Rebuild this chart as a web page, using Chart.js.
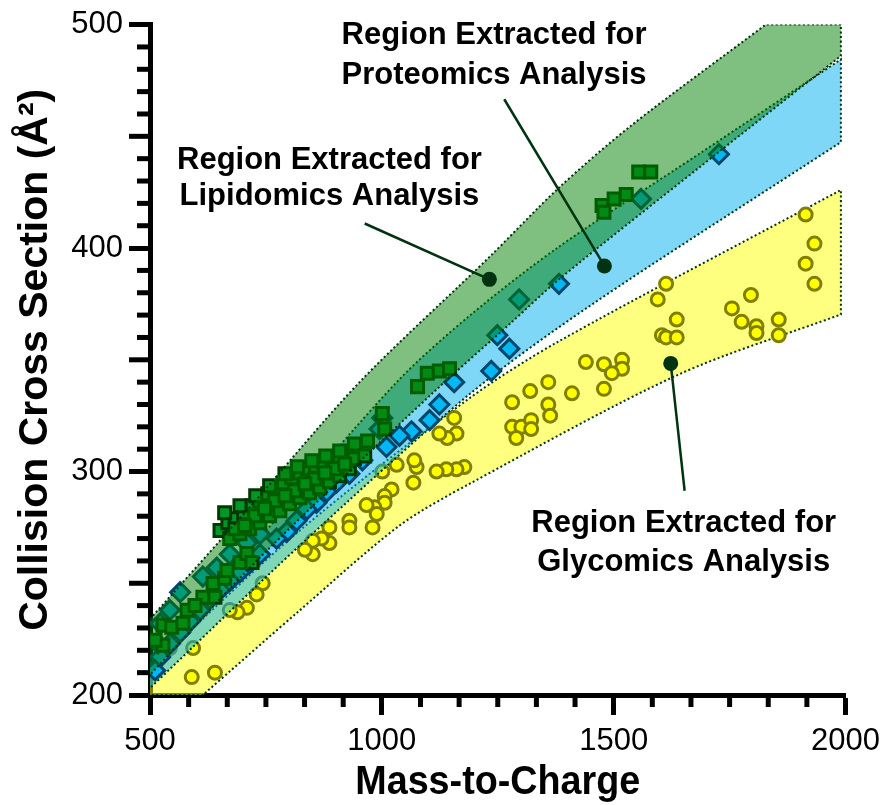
<!DOCTYPE html>
<html><head><meta charset="utf-8">
<script src="https://cdn.jsdelivr.net/npm/chart.js@4.4.1/dist/chart.umd.min.js"></script>
<style>html,body{margin:0;padding:0;background:#fff;}canvas{display:block;}</style>
</head><body>
<canvas id="c" width="888" height="805"></canvas>
<script>
// ---- tick labels / axes ----
const xTickValues = [500, 1000, 1500, 2000];
const yTickValues = [200, 300, 400, 500];
const xTitle = 'Mass-to-Charge';
const yTitle = 'Collision Cross Section (Å²)';

// ---- extraction regions (outline vertices, m/z and CCS; repeated vertex = sharp corner) ----
const lipidRegionMz  = [500, 500, 715, 952, 1232, 1382, 1539, 1828, 1828, 1990, 1990, 1990, 1990, 1684, 1382, 1281, 1109, 737, 500, 500];
const lipidRegionCcs = [234, 234, 284, 340, 396, 427, 455, 500, 500, 500, 500, 486, 486, 436, 386, 367, 335, 261.5, 209, 209];
const protRegionMz   = [500, 500, 737, 1034, 1195, 1382, 1684, 1990, 1990, 1990, 1990, 1447, 1189, 823, 500, 500];
const protRegionCcs  = [214.7, 214.7, 270.4, 340.4, 370.7, 400.6, 442.1, 484.4, 484.4, 447.4, 447.4, 373.9, 334.6, 266.9, 203.1, 203.1];
const glycRegionMz   = [500, 500, 823, 1189, 1382, 1990, 1990, 1990, 1990, 1641, 1189, 1038, 823, 614, 614, 500];
const glycRegionCcs  = [212, 212, 273.6, 332.8, 358.3, 426, 426, 370.3, 370.3, 343.5, 294.5, 275.8, 237.9, 200, 200, 200];

// ---- glycomics (yellow circles) ----
const glycMz  = [1914,1933,1914,1933,1613,1595,1796,1755,1636,1776,1808,1856,1604,1613,1636,1808,1856,1440,1479,1518,1518,1496,1359,1320,1410,1479,1281,1359,1363,1281,1301,1322,1322,1290,1156,1161,1141,1124,1178,1161,1139,1118,1075,1070,1032,1001,1068,1021,1006,1006,984,967,989,980,930,930,887,887,870,851,851,834,743,730,709,689,672,593,590,640,543];
const glycCcs = [415,402,393,384,384,377,379,373,368,367,365,368,361,360,360,362,361,349,348,350,346,344,340,336,335,337,331,330,325,320,320,323,319,315,324,317,315,317,302,301,301,300,302,305,303,300,295,292,289,286,284,285,281,275,278,275,275,268,270,269,263,265,250,245,239,237,238,221,208,210,221];

// ---- proteomics (blue diamonds) ----
const protMz  = [1727,1559,1382,1296,1249,1275,1236,1156,1124,1103,1064,1038,1010,1001,995,958,930,902,881,859,838,816,795,773,737,715,694,672,651,629,608,586,565,543,522,511,672,644,614,565,543,522,517,709,737];
const protCcs = [442,422,384,377,361,355,345,340,330,323,318,316,311,324,319,305,299,295,291,286,283,278,273,270,263,259,255,251,247,243,238,233,228,223,217,211,263,257,253,246,238,232,223,268,272];

// ---- lipidomics (green squares) ----
const lipidMz  = [1475,1479,1501,1527,1554,1580,1077,1098,1124,1146,1001,1006,
  651,668,685,702,720,737,754,771,788,806,823,840,857,874,892,909,926,943,961,
  672,694,715,737,758,780,801,823,844,866,887,909,930,
  683,726,769,812,855,898,941,
  661,694,728,758,791,818,849,879,909,941,969,
  704,747,791,834,877,920,963,
  528,547,528,580,571,614,640,636,661,666,694,709,720,511,597];
const lipidCcs = [419,416,422,424,434,434,338,344,345,346,326,319,
  273.6,277.1,278.9,281.6,284.7,286.9,290.1,292.3,295,297.2,299.4,301.2,302.5,304.3,305.7,307,308.8,310.1,310.6,
  270,272.2,274.4,277.1,280.2,282.5,285.6,288.3,290.5,292.7,295.4,298.1,301.2,
  274.4,280.2,286.9,291.4,296.7,301.2,305.7,
  281.6,284.7,289.2,293.6,299,302.1,304.8,307,309.2,312.3,313.7,
  275.8,283.4,289.2,294.5,299.4,303.4,307,
  231.2,230.3,222.3,237.9,232.1,243.7,243.7,249.9,252.2,255.7,259.3,263.3,259.3,224.5,240.1];

// ---- callouts ----
const calloutLabels = [
  ['Region Extracted for', 'Proteomics Analysis'],
  ['Region Extracted for', 'Lipidomics Analysis'],
  ['Region Extracted for', 'Glycomics Analysis']
];
const calloutTextMz  = [1242, 887, 1651];
const calloutTextCcs = [[495.1, 477.3], [439.4, 422.9], [276.7, 259.3]];
const calloutStartMz  = [1264, 963, 1653];
const calloutStartCcs = [466.6, 411, 291.4];
const calloutDotMz    = [1480, 1232, 1623];
const calloutDotCcs   = [392, 386, 348.4];

const FONT = '"Liberation Sans", Arial, Helvetica, sans-serif';
const pts = (xs, ys) => xs.map((x, i) => ({x, y: ys[i]}));

function region(xs, ys, fillColor, order) {
  return {
    type: 'line', data: pts(xs, ys), order,
    fill: 'shape', backgroundColor: fillColor,
    borderColor: '#00330f', borderWidth: 2, borderDash: [2, 2.5],
    pointRadius: 0, tension: 0.3, spanGaps: true
  };
}
function markers(xs, ys, style, r, bg, bc, order) {
  return {
    type: 'scatter', data: pts(xs, ys), order,
    pointStyle: style, pointRadius: r, pointBackgroundColor: bg,
    pointBorderColor: bc, pointBorderWidth: 3, showLine: false
  };
}
const calloutSets = calloutLabels.map((_, i) => ({
  type: 'line', order: 0,
  data: [{x: calloutStartMz[i], y: calloutStartCcs[i]}, {x: calloutDotMz[i], y: calloutDotCcs[i]}],
  borderColor: '#00330f', borderWidth: 2.5, fill: false, tension: 0,
  pointRadius: [0, 7.5], pointBackgroundColor: '#00330f', pointBorderWidth: 0
}));

const decorations = {
  id: 'decorations',
  afterDraw(chart) {
    const {ctx, scales: {x, y}, chartArea: a} = chart;
    ctx.save();
    ctx.strokeStyle = '#000';
    ctx.lineWidth = 5;
    ctx.lineCap = 'butt';
    for (let k = 1; k < 18; k++) {
      if (k % 6 === 0) continue;
      const px = x.getPixelForValue(500 + k * 1500 / 18);
      ctx.beginPath(); ctx.moveTo(px, a.bottom); ctx.lineTo(px, a.bottom + 12); ctx.stroke();
    }
    for (let v = 210; v < 500; v += 10) {
      if (v % 100 === 0) continue;
      const len = v % 50 === 0 ? 21 : 13;
      const py = y.getPixelForValue(v);
      ctx.beginPath(); ctx.moveTo(a.left, py); ctx.lineTo(a.left - len, py); ctx.stroke();
    }
    ctx.fillStyle = '#000';
    ctx.textAlign = 'center';
    ctx.textBaseline = 'middle';
    ctx.font = 'bold 31px ' + FONT;
    calloutLabels.forEach((lines, i) => {
      lines.forEach((t, j) => {
        ctx.fillText(t, x.getPixelForValue(calloutTextMz[i]), y.getPixelForValue(calloutTextCcs[i][j]));
      });
    });
    ctx.save();
    ctx.font = 'bold 41px ' + FONT;
    ctx.translate((a.left + a.right) / 2, 783);
    ctx.scale(0.92, 1);
    ctx.fillText(xTitle, 0, 0);
    ctx.restore();
    ctx.save();
    ctx.font = 'bold 41px ' + FONT;
    ctx.translate(36, (a.top + a.bottom) / 2);
    ctx.rotate(-Math.PI / 2);
    ctx.fillText(yTitle, 0, 0);
    ctx.restore();
    ctx.restore();
  }
};

new Chart(document.getElementById('c'), {
  type: 'scatter',
  data: {
    datasets: [
      ...calloutSets,
      region(lipidRegionMz, lipidRegionCcs, 'rgba(0,128,0,0.5)', 1),
      markers(lipidMz, lipidCcs, 'rect', 8.5, '#00962a', '#003a00', 2),
      markers(protMz, protCcs, 'rectRot', 9.5, '#00b8f4', '#00466a', 3),
      region(protRegionMz, protRegionCcs, 'rgba(0,176,240,0.5)', 4),
      markers(glycMz, glycCcs, 'circle', 6.5, '#ffff00', '#808000', 5),
      region(glycRegionMz, glycRegionCcs, 'rgba(255,255,0,0.5)', 6)
    ]
  },
  options: {
    responsive: false, animation: false, devicePixelRatio: 1,
    layout: {padding: {left: 0, right: 41, top: 22, bottom: 0}},
    plugins: {legend: {display: false}, tooltip: {enabled: false}},
    scales: {
      x: {
        type: 'linear', position: 'bottom', min: 500, max: 2000,
        afterBuildTicks: s => { s.ticks = xTickValues.map(v => ({value: v})); },
        afterFit: s => { s.height = 110; },
        ticks: {color: '#000', font: {family: FONT, size: 31}, padding: 8, maxRotation: 0, callback: v => String(v)},
        grid: {drawOnChartArea: false, tickLength: 20, tickWidth: 5, tickColor: '#000'},
        border: {color: '#000', width: 5}
      },
      y: {
        type: 'linear', min: 200, max: 500,
        afterBuildTicks: s => { s.ticks = yTickValues.map(v => ({value: v})); },
        afterFit: s => { s.width = 150; },
        ticks: {color: '#000', font: {family: FONT, size: 31}, padding: 6, callback: v => String(v)},
        grid: {drawOnChartArea: false, tickLength: 21, tickWidth: 5, tickColor: '#000'},
        border: {color: '#000', width: 5}
      }
    }
  },
  plugins: [decorations]
});
</script>
</body></html>
